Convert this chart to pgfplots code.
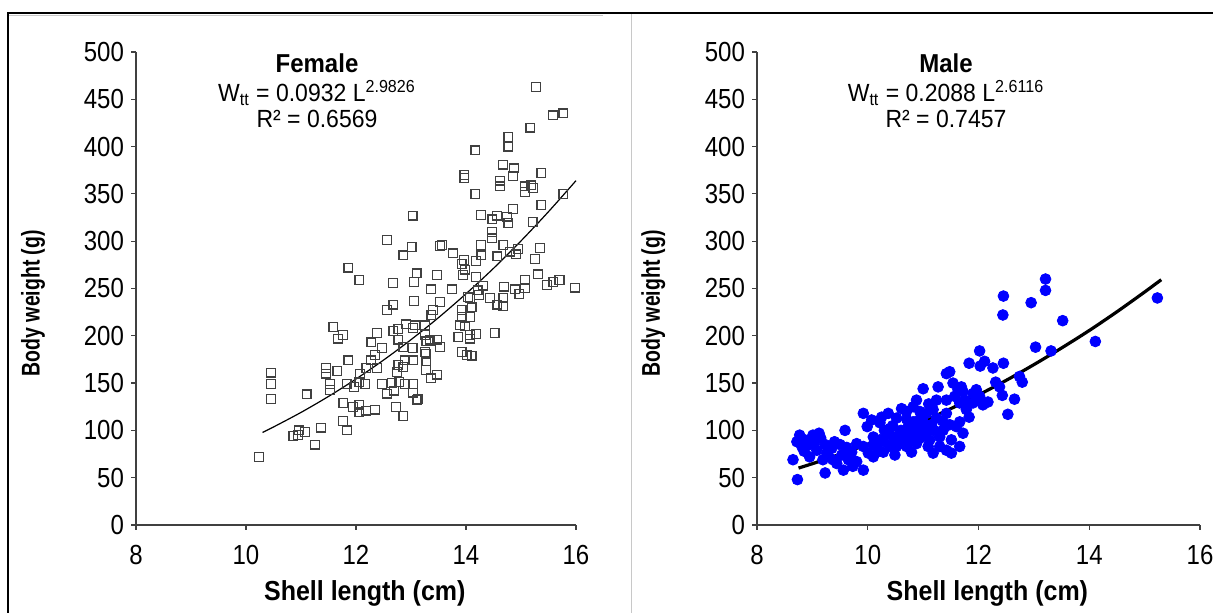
\documentclass[border=0pt]{standalone}
\usepackage{fontspec}
\setmainfont{Liberation Sans}
\usepackage{pgfplots}
\pgfplotsset{compat=1.18}
\usepackage{pgfplotstable}

\definecolor{maleblue}{RGB}{0,0,255}
\definecolor{boxgray}{RGB}{200,200,200}

% female: shell length (cm), body weight (g)
\pgfplotstableread{
x y
10.24 72
10.45 161
10.45 149
10.45 133
11.10 138
10.86 94
10.96 100
11.07 98
10.95 95
11.25 85
11.36 103
11.76 110
11.84 100
11.86 272
12.06 259
11.59 209
11.76 201
11.67 197
11.86 174
11.45 166
11.45 160
11.66 163
11.53 149
11.53 143
11.77 129
11.83 149
11.96 146
12.07 160
12.19 166
12.17 149
12.06 151
11.95 125
12.06 127
12.06 119
12.18 121
12.35 122
12.28 193
12.38 203
12.47 187
12.35 180
12.27 174
12.38 166
12.56 227
12.68 233
12.56 301
12.86 285
13.01 294
12.67 256
13.05 257
13.10 266
13.05 237
12.68 205
12.77 207
12.91 212
13.04 208
12.77 196
12.86 188
13.03 187
12.77 169
12.86 167
12.74 162
12.65 150
12.79 151
12.69 142
12.89 149
13.04 149
13.04 140
12.56 139
12.47 149
12.73 125
12.86 115
13.10 132
13.53 295
13.76 287
13.96 280
13.92 276
14.18 279
14.27 296
14.28 285
14.47 303
14.68 296
14.57 284
14.80 289
14.95 292
14.91 286
15.35 293
15.25 281
13.47 264
13.95 264
13.98 270
14.18 262
13.36 249
13.74 249
14.31 253
14.21 248
14.24 243
14.07 240
14.04 241
14.10 230
14.08 220
13.92 227
13.92 220
13.89 211
13.98 210
14.07 201
14.19 202
13.86 199
14.07 197
13.92 183
14.01 180
14.10 179
14.52 203
14.44 240
14.57 233
14.68 231
14.68 240
14.69 252
14.89 249
14.97 244
15.07 259
15.07 250
15.31 265
15.47 254
15.59 257
15.70 259
15.98 251
13.07 211
13.25 211
13.37 222
13.40 227
13.53 236
13.25 201
13.28 194
13.35 194
13.25 183
13.53 188
12.89 174
13.04 174
13.28 173
13.27 181
13.27 164
13.36 155
13.47 159
13.48 196
13.35 196
13.13 133
15.27 463
15.58 433
15.77 435
15.17 420
14.77 410
14.77 400
14.17 396
14.67 381
14.87 377
14.85 369
15.37 372
13.97 370
13.97 367
14.62 364
14.62 358
15.07 358
15.19 359
15.22 356
15.07 352
15.77 350
14.17 350
13.03 327
15.37 338
14.85 334
14.74 326
14.56 327
14.48 323
14.27 328
14.77 319
15.21 320
14.47 310
13.56 296
}\female

% male: shell length (cm), body weight (g)
\pgfplotstableread{
x y
8.73 48
8.65 69
8.77 95
8.72 88
8.86 90
8.81 83
8.95 85
9.01 95
9.12 97
9.05 88
9.08 79
8.95 72
9.23 85
9.26 76
9.35 81
9.19 69
9.37 69
9.50 85
9.53 74
9.59 100
9.65 69
9.71 77
9.80 86
9.56 58
9.23 55
9.92 58
9.92 118
9.99 104
9.92 83
10.01 76
10.10 72
10.16 83
10.22 90
10.22 108
10.10 93
10.34 97
10.40 83
10.49 74
10.37 118
10.52 113
10.58 97
10.64 86
10.73 104
10.79 90
10.70 120
10.82 125
10.88 132
10.94 120
11.00 108
11.06 97
11.12 90
11.18 122
11.24 113
11.27 146
11.30 93
11.42 132
11.42 160
11.48 162
11.54 150
11.57 136
11.60 104
11.48 106
11.51 90
11.42 118
11.63 143
11.69 146
11.78 122
12.02 136
11.96 143
11.00 144
10.70 83
10.52 83
10.28 77
10.46 93
10.61 123
10.82 109
10.94 100
11.06 118
11.15 106
11.24 132
10.88 86
10.79 77
11.09 83
11.18 76
11.30 83
11.42 79
11.51 76
11.66 83
11.72 97
11.36 100
10.25 114
10.07 111
9.68 72
9.80 67
9.44 65
9.73 62
10.30 100
10.45 105
10.60 100
10.75 95
10.90 110
11.00 115
10.85 100
11.10 128
10.95 92
10.50 90
10.65 92
10.30 88
10.10 85
10.40 102
11.20 100
11.35 110
11.10 105
10.70 112
10.20 78
8.85 78
9.15 92
9.40 88
9.62 82
15.23 240
13.21 260
13.21 248
12.45 242
12.44 222
12.95 235
13.52 216
14.11 194
13.03 188
13.31 184
12.02 184
11.83 171
12.03 168
12.11 173
12.26 166
12.45 171
12.74 157
12.79 151
12.31 151
12.38 146
12.43 137
12.65 133
12.53 117
12.17 130
11.90 139
11.99 132
11.72 141
11.78 125
11.83 114
11.66 109
11.66 129
11.75 132
11.90 129
12.02 134
12.08 127
}\male

\pgfplotsset{
  panel/.style={
    scale only axis,
    height=236.5pt,
    xmin=8, xmax=16, ymin=0, ymax=500,
    xtick={8,10,...,16}, ytick={0,50,...,500},
    axis x line*=bottom, axis y line*=left,
    tick align=outside, major tick length=2.5pt,
    axis line style={black!75, line width=0.6pt},
    tick style={black!75, line width=0.6pt},
    ticklabel style={font=\fontsize{12}{14}\selectfont},
    xticklabel={\scalebox{1}[1.15]{\pgfmathprintnumber{\tick}}},
    yticklabel={\scalebox{1}[1.15]{\pgfmathprintnumber{\tick}}},
    xticklabel style={yshift=-4pt},
    /pgf/number format/assume math mode=true,
    xlabel={\scalebox{1}[1.1]{Shell length (cm)}},
    ylabel={\scalebox{0.76}[1]{Body weight (g)}},
    xlabel style={font=\bfseries\fontsize{12.5}{14}\selectfont,
      at={(axis description cs:0.52,-0.1437)}, anchor=center},
    ylabel style={font=\bfseries\fontsize{12.8}{14}\selectfont,
      at={(axis description cs:-0.234,0.469)}, anchor=center},
    clip=false,
  },
}

\begin{document}
\begin{tikzpicture}
\path[use as bounding box] (0,0) rectangle (606.5pt,306.5pt);

% frame lines of the two pasted charts
\draw[boxgray, line width=0.5pt] (4pt,298.5pt) -- (301.5pt,298.5pt);
\draw[boxgray, line width=0.5pt] (315.5pt,0) -- (315.5pt,300pt);
\draw[black, line width=0.7pt] (4pt,0) -- (4pt,300pt) -- (606.5pt,300pt);

% female
\begin{axis}[panel, width=220pt, at={(68pt,44pt)}, anchor=south west]
\addplot[only marks, mark=square, mark size=2.2pt,
  mark options={draw=black!75, line width=0.6pt, fill=none}] table[x=x,y=y] {\female};
\addplot[black, line width=0.6pt, smooth] coordinates {
(10.3,97.8) (10.5,103.6) (11,119.0) (11.5,135.9) (12,154.3) (12.5,174.3)
(13,195.9) (13.5,219.2) (14,244.4) (14.5,271.3) (15,300.3) (15.5,331.2) (16,364.0)};
\end{axis}

% male
\begin{axis}[panel, width=221.5pt, at={(378.5pt,44pt)}, anchor=south west]
\addplot[only marks, mark=*, mark size=2.7pt,
  mark options={draw=maleblue, fill=maleblue}] table[x=x,y=y] {\male};
\addplot[black, line width=1.6pt, smooth] coordinates {
(8.75,60.2) (9,64.8) (9.5,74.7) (10,85.4) (10.5,97.0) (11,109.5) (11.5,123.0)
(12,137.5) (12.5,152.9) (13,169.5) (13.5,187.1) (14,205.6) (14.5,225.4) (15,246.3) (15.3,259.3)};
\end{axis}

% titles and fitted equations
\begin{scope}[every node/.style={font=\fontsize{11.5}{13}\selectfont, inner sep=0pt}]
\node at (158.5pt,274.8pt) {\scalebox{1}[1.08]{\bfseries\fontsize{12}{13}\selectfont Female}};
\node at (158.5pt,260pt) {\scalebox{1}[1.08]{W\textsubscript{tt} = 0.0932 L\textsuperscript{2.9826}}};
\node at (158.5pt,247pt) {\scalebox{1}[1.08]{R² = 0.6569}};
\node at (473pt,274.8pt) {\scalebox{1}[1.08]{\bfseries\fontsize{12}{13}\selectfont Male}};
\node at (473pt,260pt) {\scalebox{1}[1.08]{W\textsubscript{tt} = 0.2088 L\textsuperscript{2.6116}}};
\node at (473pt,247pt) {\scalebox{1}[1.08]{R² = 0.7457}};
\end{scope}
\end{tikzpicture}
\end{document}
